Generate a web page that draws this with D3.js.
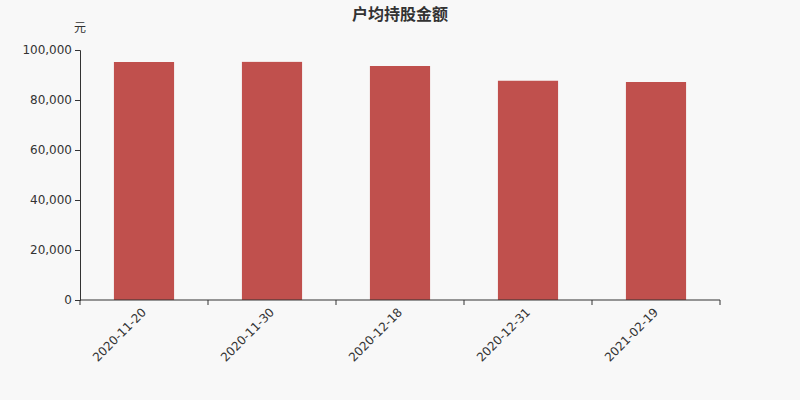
<!DOCTYPE html>
<html>
<head>
<meta charset="utf-8">
<script src="https://cdn.jsdelivr.net/npm/d3@7"></script>
<style>
  body { margin: 0; background: #f8f8f8; }
  text { font-family: "DejaVu Sans", "Noto Sans CJK SC", sans-serif; }
</style>
</head>
<body>
<div id="chart"></div>
<script>
const dates = ["2020-11-20", "2020-11-30", "2020-12-18", "2020-12-31", "2021-02-19"];
const amounts = [95200, 95250, 93600, 87700, 87200];
const yTicks = [0, 20000, 40000, 60000, 80000, 100000];

const margin = { top: 50, right: 80, bottom: 100, left: 80 };
const width = 800 - margin.left - margin.right;
const height = 400 - margin.top - margin.bottom;

const root = d3.select("#chart")
    .append("svg")
    .attr("width", 800)
    .attr("height", 400);

root.append("rect").attr("width", 800).attr("height", 400).attr("fill", "#f8f8f8");

root.append("text")
    .attr("x", 400)
    .attr("y", 20)
    .attr("text-anchor", "middle")
    .attr("font-size", 16)
    .attr("font-weight", "bold")
    .attr("fill", "#333")
    .text("户均持股金额");

const svg = root.append("g")
    .attr("transform", `translate(${margin.left},${margin.top})`);

const xScale = d3.scaleBand().domain(dates).range([0, width]);
const yScale = d3.scaleLinear().domain([0, 100000]).range([height, 0]);

const barW = xScale.bandwidth() * 0.47;

svg.selectAll(".bar")
    .data(dates)
    .enter()
    .append("rect")
    .attr("class", "bar")
    .attr("x", (d) => xScale(d) + (xScale.bandwidth() - barW) / 2)
    .attr("y", (d, i) => yScale(amounts[i]))
    .attr("width", barW)
    .attr("height", (d, i) => height - yScale(amounts[i]))
    .attr("fill", "#c0504d");

// y axis
const yAxis = svg.append("g")
    .call(d3.axisLeft(yScale).tickValues(yTicks).tickSize(5).tickFormat(d3.format(",")));
yAxis.selectAll("text").attr("font-size", 12).attr("fill", "#333").attr("font-family", null);
yAxis.selectAll("line, path").attr("stroke", "#333");

// x axis: ticks at band edges
const xAxis = svg.append("g").attr("transform", `translate(0,${height})`);
xAxis.append("line")
    .attr("x1", 0).attr("x2", width)
    .attr("stroke", "#333");
xAxis.selectAll(".edge")
    .data(dates.concat(["end"]))
    .enter()
    .append("line")
    .attr("x1", (d, i) => i * xScale.step())
    .attr("x2", (d, i) => i * xScale.step())
    .attr("y1", 0).attr("y2", 5)
    .attr("stroke", "#333");
xAxis.selectAll(".lbl")
    .data(dates)
    .enter()
    .append("text")
    .attr("transform", (d) => `translate(${xScale(d) + xScale.bandwidth() / 2},${10}) rotate(-45)`)
    .attr("text-anchor", "end")
    .attr("dy", "0.35em")
    .attr("font-size", 12)
    .attr("fill", "#333")
    .text((d) => d);

svg.append("text")
    .attr("x", 0)
    .attr("y", -18)
    .attr("text-anchor", "middle")
    .attr("font-size", 12)
    .attr("fill", "#333")
    .text("元");
</script>
</body>
</html>
